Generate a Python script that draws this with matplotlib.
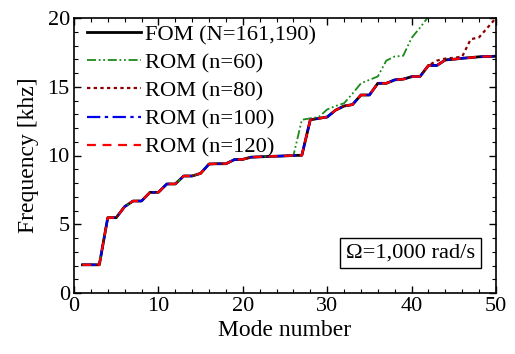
import matplotlib
matplotlib.use("Agg")
import matplotlib.pyplot as plt
from matplotlib.ticker import MultipleLocator

plt.rcParams['font.family'] = ['Liberation Serif', 'DejaVu Serif']
plt.rcParams['mathtext.fontset'] = 'stix'

modes = list(range(1, 51))
fom = [2.05, 2.05, 2.05, 5.48, 5.48, 6.28, 6.69, 6.69, 7.32, 7.32,
       7.93, 7.93, 8.51, 8.51, 8.7, 9.38, 9.4, 9.4, 9.7, 9.72,
       9.88, 9.9, 9.93, 9.95, 9.97, 10.0, 10.02, 12.6, 12.7, 12.8,
       13.3, 13.6, 13.7, 14.4, 14.4, 15.25, 15.25, 15.5, 15.55, 15.73,
       15.75, 16.55, 16.55, 16.95, 17.0, 17.07, 17.12, 17.18, 17.2, 17.22]
rom60 = fom[:26] + [12.6, 12.7, 12.8, 13.35, 13.6, 13.8, 14.5, 15.25, 15.5, 15.75,
                    16.9, 17.2, 17.25, 18.55, 19.3, 20.1]
rom80 = fom[:42] + [16.9, 17.05, 17.1, 17.2, 18.45, 18.6, 19.3, 20.0]
rom100 = list(fom)
rom120 = list(fom)

fig = plt.figure(figsize=(5.15, 3.54), dpi=100)
ax = fig.add_axes([74/515, 1-293/354, (496-74)/515, (293-18)/354])

ax.plot(modes, fom, color='black', lw=2.0, ls='-', label='FOM (N=161,190)')
ax.plot(modes[:len(rom60)], rom60, color='#1a8a1a', lw=1.3, ls=(0, (5, 1.5, 1, 1.5, 1, 1.5)), label='ROM (n=60)')
ax.plot(modes, rom80, color='#8b0000', lw=1.6, ls=(0, (1.5, 1.5)), label='ROM (n=80)')
ax.plot(modes, rom100, color='#0000ee', lw=1.6, ls=(0, (6, 2, 1.5, 2)), label='ROM (n=100)')
ax.plot(modes, rom120, color='#ff0000', lw=1.6, ls=(0, (4, 3)), label='ROM (n=120)')

ax.set_xlim(0, 50)
ax.set_ylim(0, 20)
ax.xaxis.set_major_locator(MultipleLocator(10))
ax.xaxis.set_minor_locator(MultipleLocator(2))
ax.yaxis.set_major_locator(MultipleLocator(5))
ax.yaxis.set_minor_locator(MultipleLocator(1))
ax.tick_params(which='both', direction='in', top=True, right=True, labelsize=16)
ax.tick_params(which='major', length=5, width=1, pad=3)
ax.tick_params(which='minor', length=3, width=0.8)
for s in ax.spines.values():
    s.set_linewidth(1.2)

ax.set_xlabel('Mode number', fontsize=17, labelpad=3)
ax.set_ylabel('Frequency [khz]', fontsize=17, labelpad=6)

leg = ax.legend(loc='upper left', frameon=False, fontsize=16.2, handlelength=2.4,
                handletextpad=0.15, labelspacing=0.33, borderaxespad=0.0,
                bbox_to_anchor=(0.01, 1.01))

ax.text(0.95, 0.145, 'Ω=1,000 rad/s', transform=ax.transAxes, fontsize=16.2,
        ha='right', va='center',
        bbox=dict(boxstyle='square,pad=0.25', fc='white', ec='black', lw=1))

fig.savefig('out.png', dpi=100)
